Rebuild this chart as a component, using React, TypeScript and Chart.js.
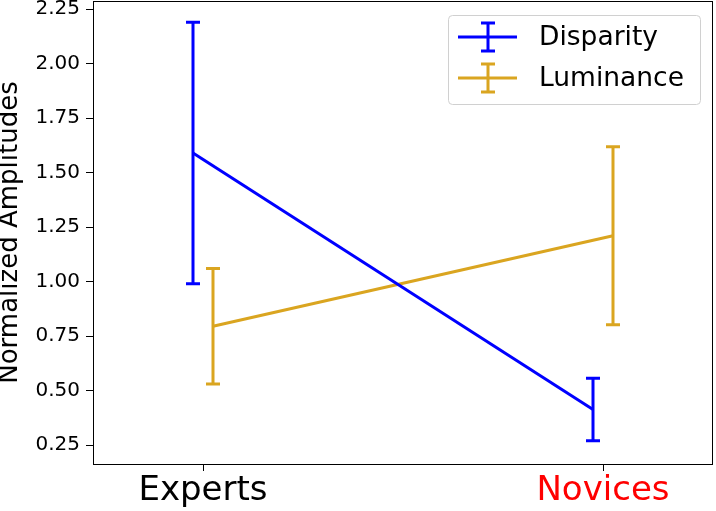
import React, { useEffect, useRef } from "react";
import Chart from "chart.js/auto";

const CATEGORIES = ["Experts", "Novices"];
const CATEGORY_POS = [0, 1];
const CATEGORY_COLORS = ["#000000", "#ff0000"];
const SERIES_NAMES = ["Disparity", "Luminance"];
const SERIES_COLORS = ["#0000ff", "#daa520"];
const SERIES_OFFSETS = [-0.025, 0.025];
const DISPARITY_MEAN = [1.59, 0.413];
const DISPARITY_ERR = [0.6, 0.143];
const LUMINANCE_MEAN = [0.795, 1.21];
const LUMINANCE_ERR = [0.265, 0.408];
const Y_TICKS = [0.25, 0.5, 0.75, 1.0, 1.25, 1.5, 1.75, 2.0, 2.25];
const Y_MIN = 0.163;
const Y_MAX = 2.287;
const X_MIN = -0.275;
const X_MAX = 1.275;
const Y_TITLE = "Normalized Amplitudes";

const FONT = "'DejaVu Sans', sans-serif";

const MEANS = [DISPARITY_MEAN, LUMINANCE_MEAN];
const ERRS = [DISPARITY_ERR, LUMINANCE_ERR];

const errorBarPlugin = {
  id: "errorBars",
  afterDatasetsDraw(chart: any) {
    const { ctx, scales } = chart;
    const xs = scales.x;
    const ys = scales.y;
    chart.data.datasets.forEach((ds: any, di: number) => {
      ctx.save();
      ctx.strokeStyle = ds.borderColor;
      ctx.lineWidth = ds.borderWidth;
      ds.data.forEach((p: any, i: number) => {
        const e = ERRS[di][i];
        const px = xs.getPixelForValue(p.x);
        const top = ys.getPixelForValue(p.y + e);
        const bot = ys.getPixelForValue(p.y - e);
        ctx.beginPath();
        ctx.moveTo(px, top);
        ctx.lineTo(px, bot);
        ctx.moveTo(px - 7, top);
        ctx.lineTo(px + 7, top);
        ctx.moveTo(px - 7, bot);
        ctx.lineTo(px + 7, bot);
        ctx.stroke();
      });
      ctx.restore();
    });
  },
};

const framePlugin = {
  id: "frame",
  afterDraw(chart: any) {
    const { ctx, chartArea } = chart;
    ctx.save();
    ctx.strokeStyle = "#000000";
    ctx.lineWidth = 1;
    ctx.strokeRect(
      Math.round(chartArea.left) + 0.5,
      Math.round(chartArea.top) + 0.5,
      Math.round(chartArea.right - chartArea.left) - 1,
      Math.round(chartArea.bottom - chartArea.top)
    );
    ctx.restore();
  },
};

const legendPlugin = {
  id: "mplLegend",
  afterDraw(chart: any) {
    const { ctx, chartArea } = chart;
    const right = chartArea.right - 13;
    const top = chartArea.top + 14;
    const w = 252;
    const h = 89;
    const left = right - w;
    ctx.save();
    ctx.fillStyle = "rgba(255,255,255,0.8)";
    ctx.strokeStyle = "#d0d0d0";
    ctx.lineWidth = 1;
    ctx.beginPath();
    if (ctx.roundRect) ctx.roundRect(left + 0.5, top + 0.5, w, h, 4);
    else ctx.rect(left + 0.5, top + 0.5, w, h);
    ctx.fill();
    ctx.stroke();
    chart.data.datasets.forEach((ds: any, i: number) => {
      const cy = top + 22 + i * 41;
      ctx.strokeStyle = ds.borderColor;
      ctx.lineWidth = ds.borderWidth;
      ctx.beginPath();
      ctx.moveTo(left + 10, cy);
      ctx.lineTo(left + 69, cy);
      const cx = left + 40;
      ctx.moveTo(cx, cy - 14);
      ctx.lineTo(cx, cy + 14);
      ctx.moveTo(cx - 7, cy - 14);
      ctx.lineTo(cx + 7, cy - 14);
      ctx.moveTo(cx - 7, cy + 14);
      ctx.lineTo(cx + 7, cy + 14);
      ctx.stroke();
      ctx.fillStyle = "#000000";
      ctx.font = `26.5px ${FONT}`;
      ctx.textBaseline = "middle";
      ctx.textAlign = "left";
      ctx.fillText(ds.label, left + 91, cy + 1);
    });
    ctx.restore();
  },
};

export default function App() {
  const ref = useRef<HTMLCanvasElement | null>(null);
  useEffect(() => {
    if (!ref.current) return;
    const datasets = SERIES_NAMES.map((name, si) => ({
      label: name,
      data: CATEGORY_POS.map((x, i) => ({ x: x + SERIES_OFFSETS[si], y: MEANS[si][i] })),
      borderColor: SERIES_COLORS[si],
      backgroundColor: SERIES_COLORS[si],
      borderWidth: 3,
      pointRadius: 0,
      showLine: true,
      tension: 0,
    }));
    const chart = new Chart(ref.current, {
      type: "scatter",
      data: { datasets },
      options: {
        animation: false,
        responsive: false,
        devicePixelRatio: 1,
        layout: { padding: { top: 1, right: 3, left: 0, bottom: 0 } },
        plugins: { legend: { display: false }, tooltip: { enabled: false } },
        scales: {
          x: {
            type: "linear",
            min: X_MIN,
            max: X_MAX,
            afterBuildTicks: (s: any) => {
              s.ticks = CATEGORY_POS.map((v) => ({ value: v }));
            },
            afterFit: (s: any) => {
              s.height = 47;
              s.paddingLeft = 0;
              s.paddingRight = 0;
            },
            grid: { drawOnChartArea: false, drawTicks: true, tickLength: 7, tickColor: "#000000", tickWidth: 1 },
            border: { display: false },
            ticks: {
              autoSkip: false,
              maxRotation: 0,
              padding: 0,
              font: { family: FONT, size: 34 },
              color: (c: any) => CATEGORY_COLORS[CATEGORY_POS.indexOf(c.tick?.value)] ?? "#000",
              callback: (v: any) => CATEGORIES[CATEGORY_POS.indexOf(v)] ?? "",
            },
          },
          y: {
            type: "linear",
            min: Y_MIN,
            max: Y_MAX,
            afterBuildTicks: (s: any) => {
              s.ticks = Y_TICKS.map((v) => ({ value: v }));
            },
            afterFit: (s: any) => {
              s.width = 93;
              s.paddingTop = 0;
              s.paddingBottom = 0;
            },
            grid: { drawOnChartArea: false, drawTicks: true, tickLength: 7, tickColor: "#000000", tickWidth: 1 },
            border: { display: false },
            title: {
              display: true,
              text: Y_TITLE,
              color: "#000000",
              font: { family: FONT, size: 26, lineHeight: 0.77 },
              padding: { top: 0, bottom: 0 },
            },
            ticks: {
              autoSkip: false,
              padding: 6,
              color: "#000000",
              font: { family: FONT, size: 20 },
              callback: (v: any) => Number(v).toFixed(2),
            },
          },
        },
      },
      plugins: [errorBarPlugin, framePlugin, legendPlugin],
    } as any);
    return () => chart.destroy();
  }, []);
  return (
    <div style={{ position: "absolute", left: 0, top: 0, width: 716, height: 511, background: "#fff" }}>
      <canvas ref={ref} width={716} height={511} />
    </div>
  );
}
